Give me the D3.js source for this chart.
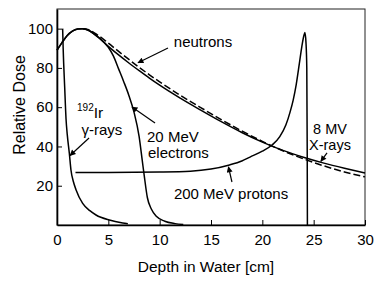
<!DOCTYPE html>
<html><head><meta charset="utf-8">
<script src="https://cdn.jsdelivr.net/npm/d3@7"></script>
<style>
html,body{margin:0;padding:0;background:#fff;}
svg{display:block;font-family:"Liberation Sans",Arial,Helvetica,sans-serif;}
</style></head>
<body>
<svg id="chart" width="383" height="291"></svg>
<script>
// ---- data ----
const xTicks = [0, 5, 10, 15, 20, 25, 30];
const yTicks = [20, 40, 60, 80, 100];
const xLabel = "Depth in Water [cm]";
const yLabel = "Relative Dose";

const xrayDepth = [0, 0.5, 1, 1.5, 2, 2.5, 3, 4, 5, 6, 7, 8, 9, 10, 12, 14, 16, 18, 20, 22, 24, 26, 28, 30];
const xrayDose  = [89, 93, 96.5, 98.7, 99.8, 100, 99.3, 95.6, 91, 86.6, 82.5, 78.6, 74.8, 71.2, 64.6, 58.5, 52.6, 47.1, 42.2, 38, 34.5, 31.5, 28.9, 26.5];

const neutronDepth = [2.5, 3, 4, 5, 6, 7, 8, 9, 10, 12, 14, 16, 18, 20, 22, 24, 26, 28, 30];
const neutronDose  = [100, 99.6, 96.6, 92.6, 88.4, 84.3, 80.3, 76.5, 72.9, 66.1, 59.8, 53.7, 47.9, 42.6, 37.8, 33.7, 30.1, 27, 24.5];

const electronDepth = [0, 0.5, 1, 1.5, 2, 2.5, 3, 4, 5, 5.5, 6, 6.5, 7, 7.5, 8, 8.3, 8.5, 8.8, 9.2, 9.7, 10.5, 11.5, 12.3];
const electronDose  = [89, 93, 96.5, 98.7, 99.8, 100, 99.3, 95.8, 90.5, 86, 79.5, 73, 66, 57.5, 45, 33, 25, 14, 8, 4.3, 1.9, 0.7, 0.2];

const irDepth = [0.55, 0.6, 0.75, 0.88, 1.0, 1.2, 1.36, 1.6, 1.85, 2.5, 3.2, 3.8, 5.1, 6.4, 6.9];
const irDose  = [100, 90, 70, 54, 46, 36.6, 28, 22, 18, 11, 7.3, 5.1, 2.5, 1, 0.6];

const protonDepth = [1.8, 5, 10, 13, 15, 16.8, 18, 18.8, 20, 21, 21.7, 22.3, 22.7, 23, 23.3, 23.6, 23.85, 24.05, 24.15, 24.25, 24.33, 24.37, 24.39];
const protonDose  = [26.8, 26.8, 27, 27.4, 28.5, 30.6, 32.6, 34.6, 37.6, 41, 45, 51, 57.5, 63.5, 71.5, 82, 91, 96.5, 98, 93, 80, 40, 0];

// annotations (data coordinates)
const labels = [
  {x: 14.22, y: 90.6, text: "neutrons", anchor: "middle", size: 15},
  {x: 8.77, y: 42.3, text: "20 MeV", anchor: "start", size: 15},
  {x: 8.86, y: 34.1, text: "electrons", anchor: "start", size: 15},
  {x: 16.95, y: 13.2, text: "200 MeV protons", anchor: "middle", size: 15},
  {x: 26.59, y: 46.3, text: "8 MV", anchor: "middle", size: 14.5},
  {x: 26.59, y: 38.3, text: "X-rays", anchor: "middle", size: 14.5},
  {x: 4.38, y: 45.8, text: "γ-rays", anchor: "middle", size: 15}
];
const arrows = [
  {x1: 10.81, y1: 90.1, x2: 7.89, y2: 82.6},
  {x1: 3.12, y1: 44.3, x2: 1.27, y2: 35.4},
  {x1: 9.55, y1: 51.9, x2: 7.30, y2: 60.1},
  {x1: 17.04, y1: 21.9, x2: 16.7, y2: 29.6},
  {x1: 26.3, y1: 36.7, x2: 25.7, y2: 32.4}
];

// ---- layout ----
const svg = d3.select("#chart");
const L = 57, R = 365, T = 9, B = 225;
const x = d3.scaleLinear().domain([0, 30]).range([L, R]);
const y = d3.scaleLinear().domain([0, 110]).range([B, T]);

// frame
svg.append("rect").attr("x", L).attr("y", T).attr("width", R - L).attr("height", B - T)
  .attr("fill", "none").attr("stroke", "#222").attr("stroke-width", 1);

// axes with inward ticks
const xAxis = d3.axisBottom(x).tickValues(xTicks).tickSizeInner(-5).tickSizeOuter(0).tickPadding(9);
const gx = svg.append("g").attr("transform", `translate(0,${B})`).call(xAxis);
gx.select(".domain").attr("stroke", "#000").attr("stroke-width", 1.6);
gx.selectAll(".tick line").attr("stroke", "#000").attr("stroke-width", 1);
gx.selectAll("text").attr("font-size", 15).attr("fill", "#000")
  .attr("font-family", "Liberation Sans, Arial, sans-serif");

const yAxis = d3.axisLeft(y).tickValues(yTicks).tickSizeInner(-5).tickSizeOuter(0).tickPadding(4);
const gy = svg.append("g").attr("transform", `translate(${L},0)`).call(yAxis);
gy.select(".domain").attr("stroke", "#000").attr("stroke-width", 1.6);
gy.selectAll(".tick line").attr("stroke", "#000").attr("stroke-width", 1);
gy.selectAll("text").attr("font-size", 15).attr("fill", "#000")
  .attr("font-family", "Liberation Sans, Arial, sans-serif");

// axis titles
svg.append("text").attr("x", (L + R) / 2 - 5).attr("y", 272).attr("text-anchor", "middle")
  .attr("font-size", 15.5).text(xLabel);
svg.append("text").attr("transform", `translate(25,${105}) rotate(-90)`).attr("text-anchor", "middle")
  .attr("font-size", 16).text(yLabel);

// curves
const line = d3.line().x(d => x(d[0])).y(d => y(d[1])).curve(d3.curveMonotoneX);
const zipData = (a, b) => a.map((v, i) => [v, b[i]]);
const g = svg.append("g").attr("fill", "none").attr("stroke", "#000").attr("stroke-width", 1.5);
g.append("path").attr("d", line(zipData(xrayDepth, xrayDose)));
g.append("path").attr("d", line(zipData(neutronDepth, neutronDose))).attr("stroke-dasharray", "7,3");
g.append("path").attr("d", line(zipData(electronDepth, electronDose)));
g.append("path").attr("d", line(zipData(protonDepth, protonDose)));
g.append("path").attr("d", line(zipData(irDepth, irDose)));

// labels
labels.forEach(l => {
  svg.append("text").attr("x", x(l.x)).attr("y", y(l.y)).attr("text-anchor", l.anchor)
    .attr("font-size", l.size).text(l.text);
});
// 192Ir
const ir = svg.append("text").attr("x", x(1.95)).attr("y", y(54.5)).attr("font-size", 15.5);
ir.append("tspan").attr("font-size", 10).attr("dy", -7).text("192");
ir.append("tspan").attr("dy", 7).text("Ir");

// arrows
svg.append("defs").append("marker").attr("id", "ah").attr("viewBox", "0 0 10 10")
  .attr("refX", 9).attr("refY", 5).attr("markerWidth", 7).attr("markerHeight", 6)
  .attr("markerUnits", "userSpaceOnUse").attr("orient", "auto")
  .append("path").attr("d", "M0,0 L10,5 L0,10 z").attr("fill", "#000");
arrows.forEach(a => {
  svg.append("line").attr("x1", x(a.x1)).attr("y1", y(a.y1)).attr("x2", x(a.x2)).attr("y2", y(a.y2))
    .attr("stroke", "#000").attr("stroke-width", 1.2).attr("marker-end", "url(#ah)");
});
</script>
</body></html>
